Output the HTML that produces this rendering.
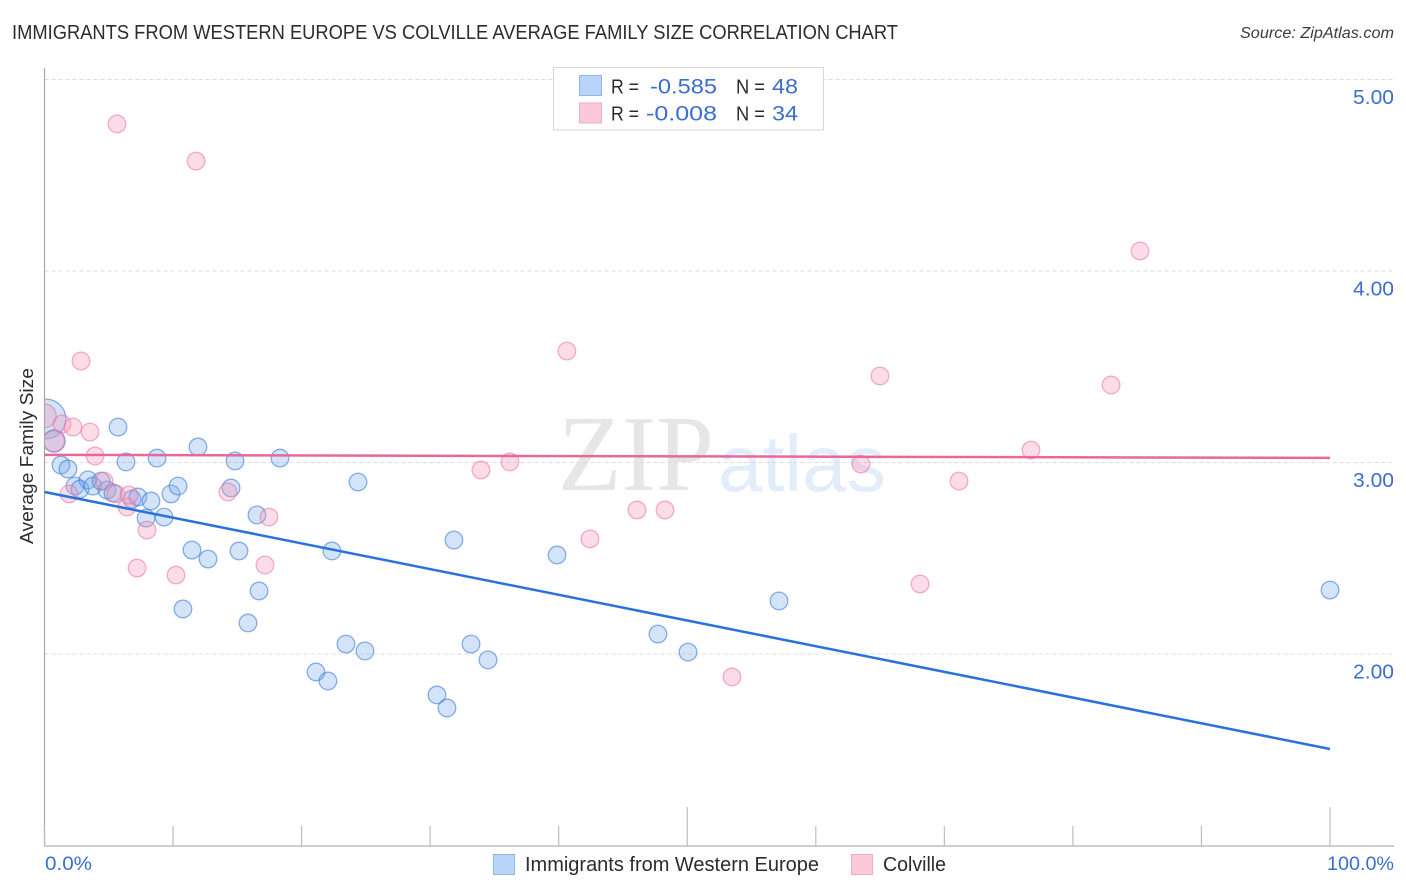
<!DOCTYPE html>
<html lang="en">
<head>
<meta charset="utf-8">
<title>Immigrants from Western Europe vs Colville Average Family Size Correlation Chart</title>
<style>
html,body{margin:0;padding:0;background:#fff;width:1406px;height:892px;overflow:hidden}
svg{display:block;font-family:"Liberation Sans",sans-serif}
</style>
</head>
<body>
<svg id="chart" xmlns="http://www.w3.org/2000/svg" width="1406" height="892" viewBox="0 0 1406 892">
  <rect x="0" y="0" width="1406" height="892" fill="#ffffff"/>
  <text x="12" y="39" font-size="20" fill="#2b2b33" textLength="886" lengthAdjust="spacingAndGlyphs">IMMIGRANTS FROM WESTERN EUROPE VS COLVILLE AVERAGE FAMILY SIZE CORRELATION CHART</text>
  <text x="1394" y="38" font-size="15.5" font-style="italic" fill="#3a3a42" text-anchor="end" textLength="154" lengthAdjust="spacingAndGlyphs">Source: ZipAtlas.com</text>

  <g>
    <text x="558" y="490" style="font-family:'Liberation Serif',serif" font-size="108" fill="#e6e6e6" textLength="156" lengthAdjust="spacingAndGlyphs">ZIP</text>
    <text x="718" y="491" style="font-family:'Liberation Sans',sans-serif" font-size="80" fill="#e3edfa" textLength="168" lengthAdjust="spacingAndGlyphs">atlas</text>
  </g>

  <g id="grid"></g>
  <g id="points"></g>
  <rect x="0" y="60" width="44.5" height="786" fill="#ffffff"/>
  <g id="axes"></g>
  <g id="y-labels"></g>
  <g id="x-labels"></g>
  <g id="trends"></g>

  <text transform="translate(33,456) rotate(-90)" font-size="18.5" fill="#2b2b33" text-anchor="middle" textLength="176" lengthAdjust="spacingAndGlyphs">Average Family Size</text>

  <g>
    <rect x="553.5" y="67.5" width="270" height="62.5" fill="#ffffff" stroke="#d6d6d6" stroke-width="1"/>
    <rect x="579.5" y="75.5" width="22" height="20" fill="#b9d4f8" stroke="#8db6ea" stroke-width="1"/>
    <rect x="579.5" y="103" width="22" height="20" fill="#fbc8d9" stroke="#f2a9c1" stroke-width="1"/>
    <text x="611" y="93.5" font-size="20" fill="#2b2b33" textLength="28" lengthAdjust="spacingAndGlyphs">R =</text>
    <text x="650" y="93.5" font-size="21" fill="#3a6fd0" textLength="67" lengthAdjust="spacingAndGlyphs">-0.585</text>
    <text x="736" y="93.5" font-size="20" fill="#2b2b33" textLength="29" lengthAdjust="spacingAndGlyphs">N =</text>
    <text x="772" y="93.5" font-size="21" fill="#3a6fd0" textLength="26" lengthAdjust="spacingAndGlyphs">48</text>
    <text x="611" y="120.5" font-size="20" fill="#2b2b33" textLength="28" lengthAdjust="spacingAndGlyphs">R =</text>
    <text x="646" y="120.5" font-size="21" fill="#3a6fd0" textLength="71" lengthAdjust="spacingAndGlyphs">-0.008</text>
    <text x="736" y="120.5" font-size="20" fill="#2b2b33" textLength="29" lengthAdjust="spacingAndGlyphs">N =</text>
    <text x="772" y="120.5" font-size="21" fill="#3a6fd0" textLength="26" lengthAdjust="spacingAndGlyphs">34</text>
  </g>

  <g>
    <rect x="493.5" y="854.5" width="21" height="20" fill="#b9d4f8" stroke="#8db6ea" stroke-width="1"/>
    <text x="525" y="871" font-size="20" fill="#2b2b33" textLength="294" lengthAdjust="spacingAndGlyphs">Immigrants from Western Europe</text>
    <rect x="851.5" y="854.5" width="21" height="20" fill="#fbc8d9" stroke="#f2a9c1" stroke-width="1"/>
    <text x="883" y="871" font-size="20" fill="#2b2b33" textLength="63" lengthAdjust="spacingAndGlyphs">Colville</text>
  </g>
</svg>
<script>
// Chart data
const yTickValues = [5, 4, 3, 2];
const yTickLabels = ['5.00', '4.00', '3.00', '2.00'];
const xTickValues = [0, 10, 20, 30, 40, 50, 60, 70, 80, 90, 100];
const xTickMajor = [50, 100];
const xEndValues = [0, 100];
const xEndLabels = ['0.0%', '100.0%'];

const immigrantsX = [0.12, 0.74, 1.28, 1.83, 2.37, 2.76, 3.38, 3.77, 4.40, 4.86, 5.33, 5.72, 6.34, 6.81, 7.27, 7.90, 8.28, 8.75, 9.30, 9.84, 10.39, 10.77, 11.47, 11.94, 12.72, 14.51, 14.82, 15.13, 15.83, 16.53, 16.69, 18.32, 21.12, 22.05, 22.36, 23.45, 24.39, 24.93, 30.53, 31.31, 31.85, 33.18, 34.50, 39.87, 47.72, 50.06, 57.14, 100];
const immigrantsY = [3.227, 3.112, 2.987, 2.966, 2.877, 2.861, 2.909, 2.877, 2.903, 2.856, 2.841, 3.185, 3.003, 2.809, 2.820, 2.710, 2.799, 3.023, 2.715, 2.836, 2.877, 2.235, 2.543, 3.081, 2.496, 2.867, 3.008, 2.538, 2.162, 2.726, 2.329, 3.023, 1.906, 1.859, 2.538, 2.052, 2.898, 2.016, 1.786, 1.718, 2.595, 2.052, 1.969, 2.517, 2.104, 2.010, 2.277, 2.334];
const immigrantsWeight = [5.1, 1.6, 1, 1, 1, 1, 1, 1, 1, 1, 1, 1, 1, 1, 1, 1, 1, 1, 1, 1, 1, 1, 1, 1, 1, 1, 1, 1, 1, 1, 1, 1, 1, 1, 1, 1, 1, 1, 1, 1, 1, 1, 1, 1, 1, 1, 1, 1];

const colvilleX = [0, 0.74, 1.36, 1.91, 2.22, 2.84, 3.54, 3.93, 4.63, 5.56, 5.64, 6.42, 6.57, 7.20, 7.97, 10.23, 11.79, 14.27, 17.15, 17.46, 33.95, 36.21, 40.64, 42.43, 46.09, 48.27, 53.48, 63.51, 64.99, 68.11, 71.14, 76.74, 82.97, 85.22];
const colvilleY = [3.243, 3.112, 3.201, 2.836, 3.185, 3.530, 3.159, 3.034, 2.903, 2.836, 4.768, 2.768, 2.830, 2.449, 2.647, 2.412, 4.574, 2.846, 2.465, 2.715, 2.961, 3.003, 3.582, 2.601, 2.752, 2.752, 1.880, 2.992, 3.452, 2.366, 2.903, 3.065, 3.405, 4.105];
const colvilleWeight = [1.8, 1.4, 1, 1, 1, 1, 1, 1, 1, 1, 1, 1, 1, 1, 1, 1, 1, 1, 1, 1, 1, 1, 1, 1, 1, 1, 1, 1, 1, 1, 1, 1, 1, 1];

const trendX = [0, 100];
const immigrantsTrendY = [2.846, 1.504];
const colvilleTrendY = [3.040, 3.024];

// Axis functions
const xScale = v => 44.5 + v * 12.855;
const yScale = v => 79.5 + (5 - v) * 191.5;
const rScale = w => 8.8 * Math.sqrt(w);

const NS = 'http://www.w3.org/2000/svg';
function make(tag, parent, attrs, text) {
  const el = document.createElementNS(NS, tag);
  for (const k in attrs) el.setAttribute(k, attrs[k]);
  if (text !== undefined) el.textContent = text;
  parent.appendChild(el);
  return el;
}
const gridG = document.getElementById('grid');
const axesG = document.getElementById('axes');
const yLabG = document.getElementById('y-labels');
const xLabG = document.getElementById('x-labels');
const ptsG = document.getElementById('points');
const trendG = document.getElementById('trends');

// Gridlines and y labels
yTickValues.forEach((v, i) => {
  const line = make('line', gridG, {x1: 44.5, x2: 1394, y1: yScale(v), y2: yScale(v), stroke: '#dcdcdc', 'stroke-width': 1, 'stroke-dasharray': '4 3'});
  
  
  const label = make('text', yLabG, {x: 1394, y: yScale(v) + 24.5, 'font-size': 20.5, fill: '#3a6fd0', 'text-anchor': 'end', textLength: 41, lengthAdjust: 'spacingAndGlyphs'}, yTickLabels[i]);
  
  
});

// Axes
const yAxis = make('line', axesG, {x1: 44.5, x2: 44.5, y1: 68, y2: 846, stroke: '#a8a8a8', 'stroke-width': 1.2});


const xAxis = make('line', axesG, {x1: 44, x2: 1394, y1: 846, y2: 846, stroke: '#b0b0b0', 'stroke-width': 1.2});


xTickValues.forEach(v => {
  const top = xTickMajor.includes(v) ? 807 : 826;
  const tick = make('line', axesG, {x1: xScale(v), x2: xScale(v), y1: top, y2: 846, stroke: '#bdbdbd', 'stroke-width': 1.2});
  
  
});

// X end labels
xEndValues.forEach((v, i) => {
  const attrs = v === 0
    ? {x: 45, y: 870, 'font-size': 19.5, fill: '#3a6fd0', textLength: 47, lengthAdjust: 'spacingAndGlyphs'}
    : {x: 1394, y: 870, 'font-size': 19.5, fill: '#3a6fd0', 'text-anchor': 'end', textLength: 67, lengthAdjust: 'spacingAndGlyphs'};
  const label = make('text', xLabG, attrs, xEndLabels[i]);
  
  
});

// Points
immigrantsX.forEach((v, i) => {
  const c = make('circle', ptsG, {cx: xScale(v), cy: yScale(immigrantsY[i]), r: rScale(immigrantsWeight[i]), fill: 'rgba(120,170,235,0.33)', stroke: 'rgba(60,125,215,0.6)', 'stroke-width': 1.3});
  
  
});
colvilleX.forEach((v, i) => {
  const c = make('circle', ptsG, {cx: xScale(v), cy: yScale(colvilleY[i]), r: rScale(colvilleWeight[i]), fill: 'rgba(245,150,185,0.33)', stroke: 'rgba(235,110,155,0.55)', 'stroke-width': 1.3});
  
  
});

// Trend lines
const blueTrend = make('line', trendG, {x1: xScale(trendX[0]), y1: yScale(immigrantsTrendY[0]), x2: xScale(trendX[1]), y2: yScale(immigrantsTrendY[1]), stroke: '#2a72d8', 'stroke-width': 2.5});


const pinkTrend = make('line', trendG, {x1: xScale(trendX[0]), y1: yScale(colvilleTrendY[0]), x2: xScale(trendX[1]), y2: yScale(colvilleTrendY[1]), stroke: '#e8689a', 'stroke-width': 2.5});


</script>
</body>
</html>
